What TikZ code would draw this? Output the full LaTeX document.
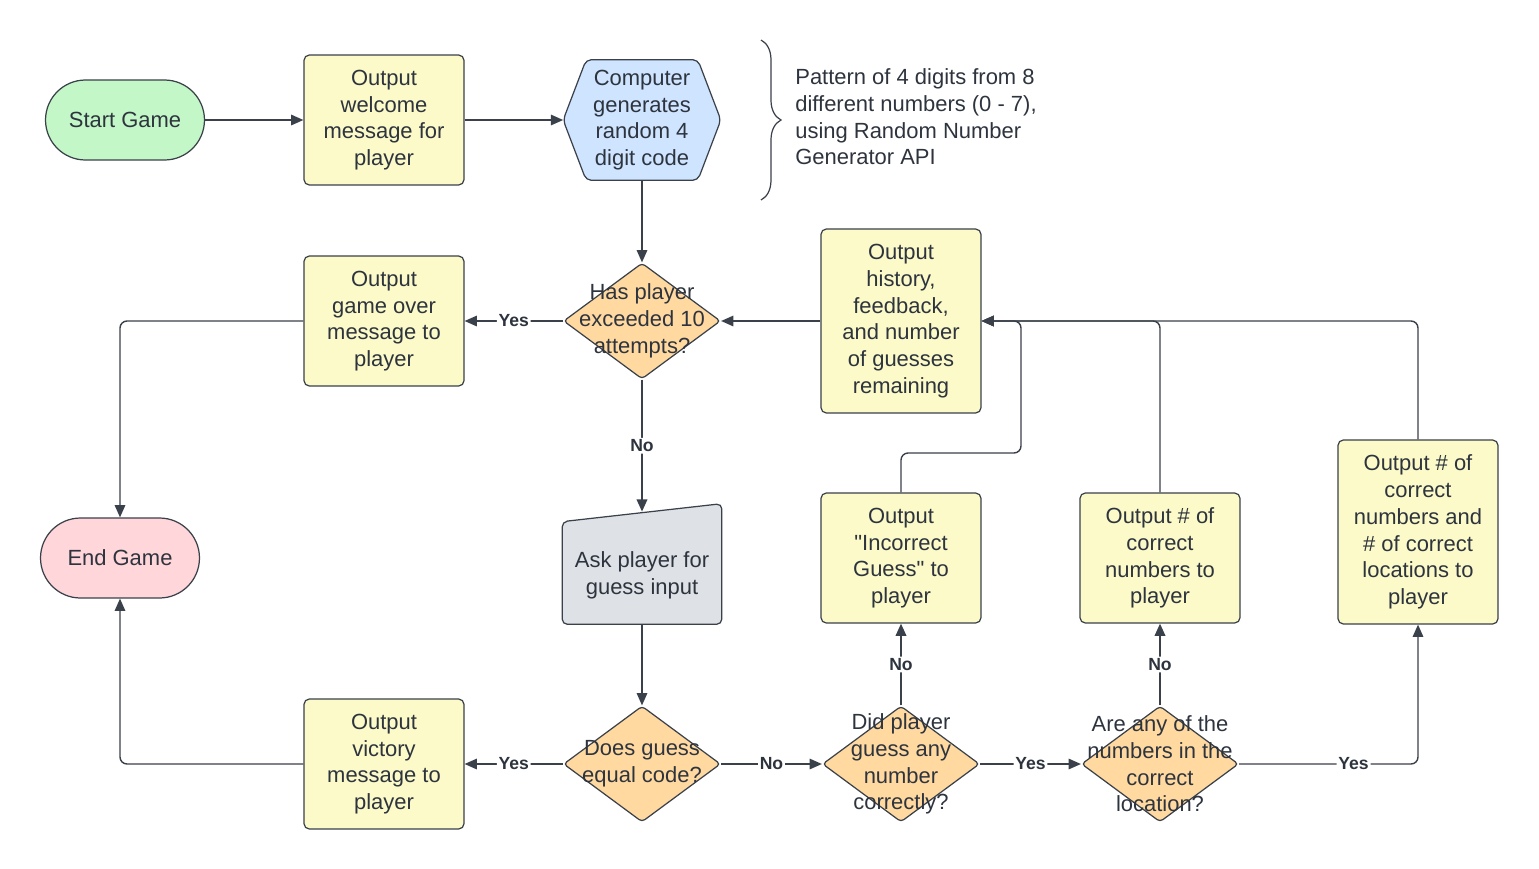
\documentclass[tikz,border=0pt]{standalone}
\usepackage{fontspec}
\setmainfont{Liberation Sans}[Ligatures=TeXOff]
\usetikzlibrary{arrows.meta,calc,positioning,shapes.geometric,decorations.pathreplacing}

\definecolor{linegray}{RGB}{58,65,74}
\definecolor{inkgray}{RGB}{46,52,62}
\definecolor{procyellow}{RGB}{251,250,200}
\definecolor{startgreen}{RGB}{195,247,200}
\definecolor{endpink}{RGB}{255,214,218}
\definecolor{genblue}{RGB}{207,228,255}
\definecolor{askgray}{RGB}{222,225,230}
\definecolor{decorange}{RGB}{255,217,160}

\pgfdeclarelayer{background}
\pgfsetlayers{background,main}

\tikzset{
  base/.style={draw=linegray, line width=0.7pt, align=center, inner sep=2pt},
  terminal/.style={base, rounded corners=0.8cm, minimum width=3.18cm, minimum height=1.6cm},
  procbox/.style={base, fill=procyellow, rounded corners=3pt, minimum width=3.2cm, minimum height=2.6cm},
  decision/.style={diamond, draw=linegray, line width=0.7pt, fill=decorange, rounded corners=2pt,
    minimum width=3.14cm, minimum height=2.32cm, inner sep=0pt},
  flow/.style={draw=linegray, line width=0.8pt, -{Triangle[length=7pt,width=6pt]}, rounded corners=4pt},
  tag/.style={fill=white, text=inkgray, font=\fontsize{10pt}{11pt}\selectfont\bfseries, inner sep=1pt},
}

\begin{document}
\begin{tikzpicture}[x=0.02cm,y=-0.02cm, text=inkgray, font=\fontsize{12.5pt}{15.2pt}\selectfont]
\useasboundingbox (0,0) rectangle (1539,869);

% top row
\node[terminal, fill=startgreen] (start) at (125,120) {Start Game};
\node[procbox] (welcome) at (384,120) {Output\\welcome\\message for\\player};
\node[align=center, minimum width=3.14cm, minimum height=2.4cm, inner sep=0pt] (gen) at (642,120)
  {Computer\\generates\\random 4\\digit code};
\draw[linegray, line width=0.7pt, decorate, decoration={brace, amplitude=0.4cm}] (761,40) -- (761,200);
\node[anchor=west, align=left, inner sep=0pt] (note) at (795,117)
  {Pattern of 4 digits from 8\\different numbers (0 - 7),\\using Random Number\\Generator API};

% middle row
\node[decision, label={[align=center]center:Has player\\exceeded 10\\attempts?}] (attempts) at (642,321) {};
\node[procbox] (over) at (384,321) {Output\\game over\\message to\\player};
\node[procbox, minimum height=3.68cm] (hist) at (901,321)
  {Output\\history,\\feedback,\\and number\\of guesses\\remaining};
\node[terminal, fill=endpink] (endg) at (120,558) {End Game};
\node[minimum width=3.18cm, minimum height=2.24cm, inner sep=0pt,
  label={[align=center, yshift=-0.14cm]center:Ask player for\\guess input}] (ask) at (642,568) {};
\node[procbox] (wrong) at (901,558) {Output\\"Incorrect\\Guess" to\\player};
\node[procbox] (cnum) at (1160,558) {Output \# of\\correct\\numbers to\\player};
\node[procbox, minimum height=3.68cm] (cloc) at (1418,532)
  {Output \# of\\correct\\numbers and\\\# of correct\\locations to\\player};

% bottom row
\node[decision, label={[align=center]center:Does guess\\equal code?}] (equal) at (642,764) {};
\node[procbox] (victory) at (384,764) {Output\\victory\\message to\\player};
\node[decision, label={[align=center]center:Did player\\guess any\\number\\correctly?}] (anynum) at (901,764) {};
\node[decision, label={[align=center]center:Are any of the\\numbers in the\\correct\\location?}] (inplace) at (1160,764) {};

% shapes behind the text
\begin{pgfonlayer}{background}
\draw[draw=linegray, line width=0.7pt, fill=genblue, rounded corners=3pt]
  (gen.west) -- ($(gen.north west)+(23,0)$) -- ($(gen.north east)+(-23,0)$) -- (gen.east)
  -- ($(gen.south east)+(-23,0)$) -- ($(gen.south west)+(23,0)$) -- cycle;
\draw[draw=linegray, line width=0.7pt, fill=askgray, rounded corners=3pt]
  (ask.south west) -- ($(ask.north west)+(0,10)$) -- ($(ask.north east)+(0,-8)$)
  -- (ask.south east) -- cycle;
\end{pgfonlayer}

% connectors
\draw[flow] (start) -- (welcome);
\draw[flow] (welcome) -- (gen);
\draw[flow] (gen) -- (attempts);
\draw[flow] (attempts) -- node[tag]{Yes} (over);
\draw[flow] (over.west) -| (endg.north);
\draw[flow] (hist) -- (attempts);
\draw[flow, line width=1.1pt] (attempts) -- node[tag]{No} (ask);
\draw[flow] (ask) -- (equal);
\draw[flow] (equal) -- node[tag]{Yes} (victory);
\draw[flow] (victory.west) -| (endg.south);
\draw[flow] (equal) -- node[tag]{No} (anynum);
\draw[flow, line width=1.1pt] (anynum) -- node[tag]{No} (wrong);
\draw[flow] (anynum) -- node[tag]{Yes} (inplace);
\draw[flow, line width=1.1pt] (inplace) -- node[tag]{No} (cnum);
\draw[flow] (inplace.east) -| node[tag, pos=0.32]{Yes} (cloc.south);

% feedback loops
\coordinate (bend) at (1021,453);
\draw[flow] (wrong.north) |- (bend) |- (hist.east);
\draw[flow] (cnum.north) |- (hist.east);
\draw[flow] (cloc.north) |- (hist.east);
\end{tikzpicture}
\end{document}
